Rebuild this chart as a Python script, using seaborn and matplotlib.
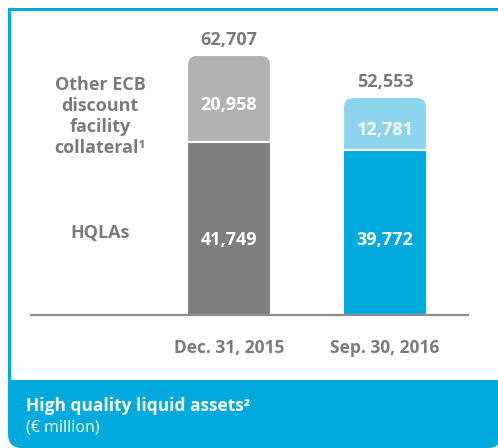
import matplotlib
matplotlib.use("Agg")
import matplotlib.pyplot as plt
import seaborn as sns
from matplotlib.patches import FancyBboxPatch, Rectangle

# ==========================================================
# High quality liquid assets (EUR million)
# ==========================================================

dates = ["Dec. 31, 2015", "Sep. 30, 2016"]
hqla = [41749, 39772]
other_ecb = [20958, 12781]
totals = [62707, 52553]

base_colors = ["#7f7e7e", "#00aade"]
top_colors = ["#b3b2b2", "#8dd4ee"]
TEXT_GRAY = "#7b7b7b"
FRAME = "#00aade"

sns.set_theme(style="white")
plt.rcParams["font.family"] = ["Open Sans", "DejaVu Sans"]

W, H = 498, 448
fig = plt.figure(figsize=(W / 100, H / 100), dpi=100)

# axes spans the baseline (x 31..468 px, baseline at y 315 px)
ax = fig.add_axes([31 / W, (H - 315) / H, 437 / W, 295 / H])

bar_w = 0.538
sns.barplot(x=dates, y=totals, hue=dates, palette=top_colors, width=bar_w,
            saturation=1, legend=False, edgecolor="white", linewidth=1.5, ax=ax)
n_top = len(ax.patches)
sns.barplot(x=dates, y=hqla, hue=dates, palette=base_colors, width=bar_w,
            saturation=1, legend=False, edgecolor="white", linewidth=1.5, ax=ax)

ax.set_xlim(-1.269, 1.532)
ax.set_ylim(0, 71150)

# ----------------------------------------------------------
# Round the top corners of the upper segments
# ----------------------------------------------------------

fig.canvas.draw()
x_per_px = (ax.get_xlim()[1] - ax.get_xlim()[0]) / ax.get_window_extent().width
y_per_px = (ax.get_ylim()[1] - ax.get_ylim()[0]) / ax.get_window_extent().height
radius_px = 10

for p in list(ax.patches)[:n_top]:
    x, y = p.get_x(), p.get_y()
    w, h = p.get_width(), p.get_height()
    fc = p.get_facecolor()
    p.remove()
    ax.add_patch(FancyBboxPatch(
        (x, y), w, h,
        boxstyle=f"round,pad=0,rounding_size={radius_px * x_per_px}",
        mutation_aspect=y_per_px / x_per_px,
        facecolor=fc, edgecolor="white", linewidth=1.5, zorder=0.5
    ))

# ----------------------------------------------------------
# Value labels
# ----------------------------------------------------------

for i in range(len(dates)):
    ax.text(i, totals[i] + 3600, f"{totals[i]:,}", ha="center", va="center",
            color=TEXT_GRAY, fontsize=13, fontweight="bold")
    ax.text(i, (hqla[i] + totals[i]) / 2 - 1500, f"{other_ecb[i]:,}",
            ha="center", va="center", color="white", fontsize=13, fontweight="bold")
    ax.text(i, 18000, f"{hqla[i]:,}", ha="center", va="center",
            color="white", fontsize=13, fontweight="bold")

ax.text(0.158, 0.672, "Other ECB\ndiscount\nfacility\ncollateral\u00b9",
        transform=ax.transAxes, ha="center", va="center", color=TEXT_GRAY,
        fontsize=13, fontweight="bold", linespacing=1.22)
ax.text(0.158, 0.278, "HQLAs", transform=ax.transAxes, ha="center",
        va="center", color=TEXT_GRAY, fontsize=13, fontweight="bold")

# ----------------------------------------------------------
# Axes styling
# ----------------------------------------------------------

sns.despine(ax=ax, left=True)
ax.spines["bottom"].set_color("#8c8c8c")
ax.spines["bottom"].set_linewidth(1.6)
ax.set_yticks([])
ax.set_xlabel("")
ax.set_ylabel("")
ax.tick_params(axis="x", length=0, pad=17, labelsize=12.5, labelcolor=TEXT_GRAY)
for lab in ax.get_xticklabels():
    lab.set_fontweight("bold")
ax.patch.set_alpha(0)

# ----------------------------------------------------------
# Frame and caption box
# ----------------------------------------------------------

fig.add_artist(Rectangle((8 / W, (H - 11) / H), 1, 3 / H, lw=0,
                         transform=fig.transFigure, color=FRAME, zorder=0))
fig.add_artist(Rectangle((8 / W, 40 / H), 3 / W, (H - 8 - 40) / H, lw=0,
                         transform=fig.transFigure, color=FRAME, zorder=0))
fig.add_artist(FancyBboxPatch((8 / W, 0), 494 / W, 68 / H, lw=0,
                              boxstyle=f"round,pad=0,rounding_size={14 / W}",
                              mutation_aspect=W / H,
                              transform=fig.transFigure, color=FRAME, zorder=0))
fig.add_artist(Rectangle((8 / W, 30 / H), 1, 38 / H, lw=0,
                         transform=fig.transFigure, color=FRAME, zorder=0))

fig.text(26 / W, (H - 406) / H, "High quality liquid assets\u00b2", color="white",
         fontsize=12.5, fontweight="bold", ha="left", va="center")
fig.text(26 / W, (H - 427) / H, "(\u20ac million)", color="white",
         fontsize=11.5, ha="left", va="center")

fig.savefig("out.png", dpi=100)
